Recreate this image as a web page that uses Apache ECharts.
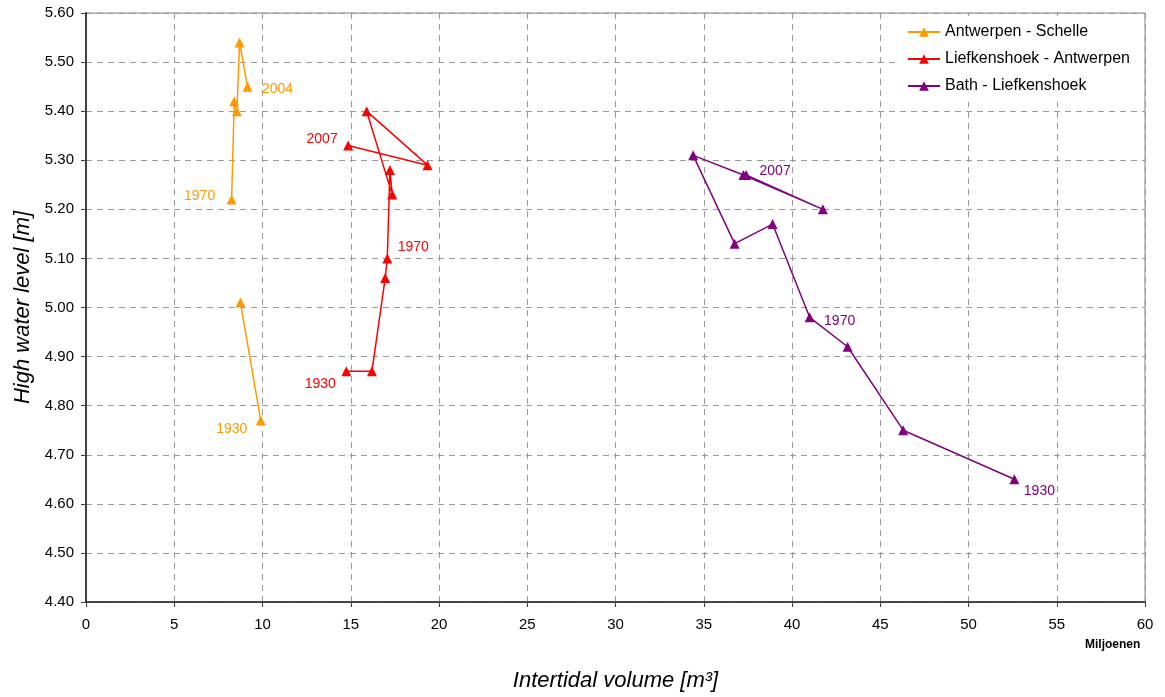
<!DOCTYPE html>
<html>
<head>
<meta charset="utf-8">
<script src="https://cdn.jsdelivr.net/npm/echarts@6/dist/echarts.min.js"></script>
<style>
html,body{margin:0;padding:0;background:#fff;}
#chart{width:1165px;height:697px;}
</style>
</head>
<body>
<div id="chart"></div>
<script>
// ---- data ----
const seriesNames = ['Antwerpen - Schelle', 'Liefkenshoek - Antwerpen', 'Bath - Liefkenshoek'];

const antwerpenX = [9.9, 8.75, null, 8.25, 8.4, 8.55, 8.7, 9.15];
const antwerpenY = [4.77, 5.01, null, 5.22, 5.42, 5.40, 5.54, 5.45];
const antwerpenYears = ['1930', '', '', '1970', '', '', '', '2004'];

const liefkenshoekX = [14.75, 16.2, 16.95, 17.07, 17.22, 17.35, 15.9, 19.35, 14.85];
const liefkenshoekY = [4.87, 4.87, 5.06, 5.10, 5.28, 5.23, 5.40, 5.29, 5.33];
const liefkenshoekYears = ['1930', '', '', '1970', '', '', '', '', '2007'];

const bathX = [52.6, 46.3, 43.15, 41.0, 38.9, 36.75, 34.4, 37.25, 41.75, 37.4];
const bathY = [4.65, 4.75, 4.92, 4.98, 5.17, 5.13, 5.31, 5.27, 5.20, 5.27];
const bathYears = ['1930', '', '', '1970', '', '', '', '', '', '2007'];

const xMin = 0, xMax = 60, xStep = 5;
const yMin = 4.4, yMax = 5.6, yStep = 0.1;

// ---- styling (not data) ----
const colors = ['#FF9900', '#FF0000', '#800080'];
const labelOffsets = [
  {'1930': [-29, 9], '1970': [-32, -3], '2004': [30, 3]},
  {'1930': [-26, 13], '1970': [26, -11], '2007': [-26, -6]},
  {'1930': [25, 12], '1970': [30, 4], '2007': [29, -4]}
];
const font = 'Liberation Sans, Arial, sans-serif';

function build(xs, ys, years, idx) {
  return xs.map((x, i) => {
    if (x === null || ys[i] === null) return {value: ['-', '-']};
    const item = {value: [x, ys[i]]};
    const yr = years[i];
    if (yr) {
      item.label = {
        show: true, position: 'inside', offset: labelOffsets[idx][yr],
        formatter: yr, color: colors[idx], fontSize: 14, fontFamily: font
      };
    }
    return item;
  });
}

const dataSets = [
  build(antwerpenX, antwerpenY, antwerpenYears, 0),
  build(liefkenshoekX, liefkenshoekY, liefkenshoekYears, 1),
  build(bathX, bathY, bathYears, 2)
];

const chart = echarts.init(document.getElementById('chart'), null, {renderer: 'canvas'});

chart.setOption({
  animation: false,
  backgroundColor: '#fff',
  textStyle: {fontFamily: font},
  grid: {left: 86, right: 20, top: 13, bottom: 95, show: true, borderColor: '#808080', borderWidth: 1,
    containLabel: false, outerBoundsMode: 'none'},
  legend: {
    orient: 'vertical', left: 897, top: 16,
    backgroundColor: '#fff',
    padding: [8, 14, 8, 10],
    itemGap: 11, itemWidth: 32, itemHeight: 12,
    textStyle: {fontSize: 16, color: '#000', fontFamily: font},
    data: seriesNames
  },
  xAxis: {
    type: 'value', min: xMin, max: xMax, interval: xStep,
    name: 'Intertidal volume [m³]', nameLocation: 'middle', nameGap: 68,
    nameTextStyle: {fontSize: 22, fontStyle: 'italic', color: '#000', fontFamily: font},
    axisLine: {show: true, lineStyle: {color: '#202020', width: 1.5}},
    axisTick: {show: true, inside: false, length: 5, lineStyle: {color: '#404040'}},
    axisLabel: {fontSize: 15, color: '#000', margin: 15, fontFamily: font},
    splitLine: {show: true, lineStyle: {color: '#9a9a9a', type: [6, 5], width: 1}}
  },
  yAxis: {
    type: 'value', min: yMin, max: yMax, interval: yStep,
    name: 'High water level [m]', nameLocation: 'middle', nameGap: 50,
    nameTextStyle: {fontSize: 22, fontStyle: 'italic', color: '#000', fontFamily: font},
    axisLine: {show: true, lineStyle: {color: '#404040', width: 2}},
    axisTick: {show: true, inside: false, length: 5, lineStyle: {color: '#404040'}},
    axisLabel: {fontSize: 15, color: '#000', margin: 12, fontFamily: font,
      formatter: v => v.toFixed(2)},
    splitLine: {show: true, lineStyle: {color: '#9a9a9a', type: [6, 5], width: 1}}
  },
  graphic: [{
    type: 'text', left: 1085, top: 639,
    style: {text: 'Miljoenen', font: 'bold 12px ' + font, fill: '#000'}
  }],
  series: seriesNames.map((name, i) => ({
    name: name, type: 'line', data: dataSets[i],
    connectNulls: false,
    symbol: 'triangle', symbolSize: 10,
    itemStyle: {color: colors[i]},
    lineStyle: {color: colors[i], width: 1.5},
    z: 3
  }))
});
</script>
</body>
</html>
